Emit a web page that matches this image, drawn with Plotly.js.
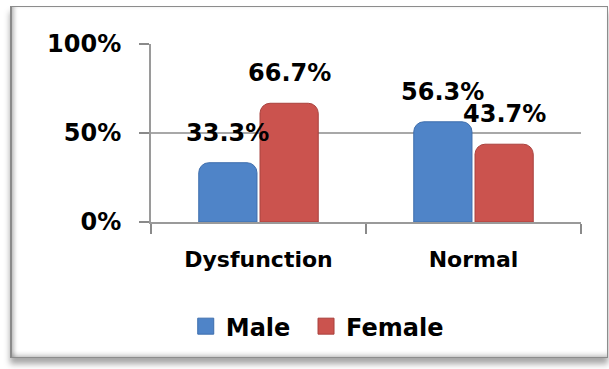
<!DOCTYPE html>
<html>
<head>
<meta charset="utf-8">
<script src="https://cdn.plot.ly/plotly-3.0.1.min.js"></script>
<style>
  html, body { margin: 0; padding: 0; background: #fff; }
  #wrap { position: relative; width: 609px; height: 369px; overflow: hidden; }
  #chart { position: absolute; left: 0; top: 0; width: 609px; height: 369px; }
  /* bevelled card frame around the chart */
  #frame {
    position: absolute; left: 10px; top: 6px; width: 595px; height: 350px;
    border: 1px solid #8c8c8c; border-left: 2px solid #8a8a8a;
    box-shadow: inset 4px 0 4px -2px rgba(0,0,0,0.28),
                inset 0 -5px 5px -3px rgba(0,0,0,0.22),
                0 6px 6px rgba(0,0,0,0.35);
    pointer-events: none;
  }
</style>
</head>
<body>
<div id="wrap">
  <div id="chart"></div>
  <div id="frame"></div>
</div>
<script>
// Categories and values (percent)
const categories = ['Dysfunction', 'Normal'];
const seriesNames = ['Male', 'Female'];
const maleValues = [33.3, 56.3];
const femaleValues = [66.7, 43.7];
const yTickValues = [0, 50, 100];
const yTickLabels = ['0%', '50%', '100%'];

const FONT = 'DejaVu Sans, sans-serif';
const BAR_GAP = 0.43;
const GROUP_GAP = 0.05;
const colors = ['#4F84C8', '#CB534E'];
const lineColors = ['#3E6EAD', '#A9413D'];
const legendIds = ['legend', 'legend2'];
const legendX = [0.305, 0.5025];

const seriesValues = [maleValues, femaleValues];

// the bars themselves
const barTraces = seriesValues.map((vals, s) => ({
  type: 'bar',
  name: seriesNames[s],
  x: categories,
  y: vals,
  marker: {
    color: colors[s],
    line: { color: lineColors[s], width: 1 },
    cornerradius: 10
  },
  showlegend: false,
  hoverinfo: 'skip'
}));

// square legend keys, one legend box per series
const legendTraces = seriesNames.map((name, s) => ({
  type: 'scatter',
  mode: 'markers',
  name: name,
  legend: legendIds[s],
  x: [null],
  y: [null],
  marker: { symbol: 'square', size: 16, color: colors[s], line: { color: lineColors[s], width: 1 } },
  hoverinfo: 'skip'
}));

// value labels sit above each bar, offset to the bar's slot in its group
const slot = (1 - BAR_GAP) / seriesValues.length;
const annotations = [];
seriesValues.forEach((vals, s) => {
  vals.forEach((v, i) => {
    annotations.push({
      xref: 'x', yref: 'y',
      x: i + (s - (seriesValues.length - 1) / 2) * slot,
      y: v,
      text: '<b>' + v.toFixed(1) + '%</b>',
      showarrow: false,
      yanchor: 'bottom',
      yshift: 14,
      font: { family: FONT, size: 24, color: '#000' }
    });
  });
});

function legendBox(x) {
  return {
    orientation: 'h',
    xref: 'container', yref: 'container',
    x: x, xanchor: 'left',
    y: 0.115, yanchor: 'middle',
    itemsizing: 'trace',
    font: { family: FONT, size: 24, color: '#000', weight: 'bold' },
    bgcolor: 'rgba(0,0,0,0)'
  };
}

const layout = {
  width: 609,
  height: 369,
  paper_bgcolor: 'rgba(0,0,0,0)',
  plot_bgcolor: 'rgba(0,0,0,0)',
  margin: { l: 151, r: 28, t: 44, b: 147, pad: 0 },
  barmode: 'group',
  bargap: BAR_GAP,
  bargroupgap: GROUP_GAP,
  showlegend: true,
  legend: legendBox(legendX[0]),
  legend2: legendBox(legendX[1]),
  xaxis: {
    type: 'category',
    range: [-0.5, 1.5],
    showline: true,
    linecolor: '#9a9a9a',
    linewidth: 2,
    ticks: 'outside',
    tickson: 'boundaries',
    ticklen: 10,
    tickcolor: '#8a8a8a',
    tickwidth: 1.5,
    showgrid: false,
    tickfont: { family: FONT, size: 22, color: '#000', weight: 'bold' },
    ticklabelstandoff: 17
  },
  yaxis: {
    range: [0, 100],
    tickvals: yTickValues,
    ticktext: yTickLabels,
    showline: true,
    linecolor: '#9a9a9a',
    linewidth: 2,
    ticks: 'outside',
    ticklen: 10,
    tickcolor: '#8a8a8a',
    tickwidth: 1.5,
    showgrid: true,
    gridcolor: '#a8a8a8',
    gridwidth: 2,
    zeroline: false,
    tickfont: { family: FONT, size: 24, color: '#000', weight: 'bold' },
    ticklabelstandoff: 13
  },
  annotations: annotations
};

Plotly.newPlot('chart', barTraces.concat(legendTraces), layout, { displayModeBar: false, staticPlot: true });
</script>
</body>
</html>
